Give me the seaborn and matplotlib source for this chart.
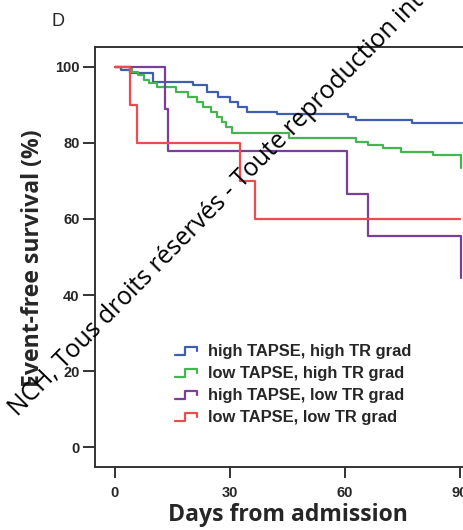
import pandas as pd
import seaborn as sns
import matplotlib.pyplot as plt
from matplotlib.lines import Line2D
from matplotlib.legend_handler import HandlerLine2D

# Kaplan-Meier style curves (days, event-free survival %)
groups = ["high TAPSE, high TR grad", "low TAPSE, high TR grad",
          "high TAPSE, low TR grad", "low TAPSE, low TR grad"]
colors = ["#3f5fae", "#45b550", "#7a3f98", "#ee4b50"]

blue_days = [0, 1.5, 4, 10, 20.3, 24, 27, 30, 32, 34.4, 42.3, 60.8, 63, 77.5, 90.5]
blue_surv = [100, 99.2, 98.4, 96, 95.3, 93.4, 92.1, 90.8, 89.5, 88.2, 87.6, 86.8, 86, 85.3, 85.3]

green_days = [0, 4.5, 6, 7.5, 9, 11, 16, 19, 21.5, 23, 25, 26.5, 28, 29, 30.5,
              45.5, 63, 66, 70, 74.5, 83, 90.3]
green_surv = [100, 98.7, 97.9, 96.6, 95.8, 94.7, 93.4, 92.1, 90.8, 89.5, 88.2, 86.8,
              85.5, 84.2, 82.6, 81.3, 80.3, 79.5, 78.7, 77.6, 76.8, 73.5]

purple_days = [0, 13, 13.8, 60.5, 66, 90.3]
purple_surv = [100, 88.9, 77.8, 66.7, 55.6, 44.4]

red_days = [0, 4, 5.7, 32.6, 36.5, 90.0]
red_surv = [100, 90, 80, 70, 60, 60]

xticks = [0, 30, 60, 90]
yticks = [0, 20, 40, 60, 80, 100]

frames = []
for g, d, s in zip(groups,
                   [blue_days, green_days, purple_days, red_days],
                   [blue_surv, green_surv, purple_surv, red_surv]):
    frames.append(pd.DataFrame({"day": d, "surv": s, "group": g}))
df = pd.concat(frames, ignore_index=True)

sns.set_style("ticks")
plt.rcParams["font.family"] = ["Liberation Sans", "DejaVu Sans"]

fig = plt.figure(figsize=(4.64, 5.30), dpi=100)
ax = fig.add_axes([95 / 464, 63 / 530, 1 - 95 / 464, 420 / 530])

sns.lineplot(data=df, x="day", y="surv", hue="group", hue_order=groups,
             palette=colors, estimator=None, sort=False, drawstyle="steps-post",
             linewidth=1.6, legend=False, ax=ax)

ax.set_xlim(-5.2, 91.05)
ax.set_ylim(-5.26, 105.26)
ax.set_xticks(xticks)
ax.set_yticks(yticks)
ax.tick_params(axis="x", length=8, width=1.3, pad=6, labelsize=10.5, color="#222222")
ax.tick_params(axis="y", length=9, width=1.3, pad=2, labelsize=10.5, color="#222222")
for lab in ax.get_xticklabels() + ax.get_yticklabels():
    lab.set_fontweight("bold")
for side in ["left", "bottom", "top"]:
    ax.spines[side].set_linewidth(1.4)
    ax.spines[side].set_color("#333333")
ax.spines["right"].set_visible(False)

ax.set_xlabel("")
ax.set_ylabel("")
fig.text(288 / 464, 1 - 515 / 530, "Days from admission", ha="center", va="center",
         fontsize=16.6, fontweight="bold", family="Open Sans")
fig.text(33 / 464, 1 - 258 / 530, "Event-free survival (%)", ha="center", va="center",
         rotation=90, fontsize=16.6, fontweight="bold", family="Open Sans")
fig.text(58 / 464, 1 - 21 / 530, "D", ha="center", va="center", fontsize=13)


class StepHandler(HandlerLine2D):
    def create_artists(self, legend, orig_handle, xdescent, ydescent, width, height,
                       fontsize, trans):
        x0, y0 = -xdescent, -ydescent
        xs = [x0, x0 + 0.43 * width, x0 + 0.43 * width, x0 + 0.93 * width, x0 + 0.93 * width]
        ys = [y0 + 0.1 * height, y0 + 0.1 * height, y0 + 0.8 * height,
              y0 + 0.8 * height, y0 + 0.45 * height]
        line = Line2D(xs, ys, color=orig_handle.get_color(), lw=1.6)
        line.set_transform(trans)
        return [line]


handles = [Line2D([], [], color=c, lw=1.6) for c in colors]
leg = ax.legend(handles, groups, loc="upper left",
                bbox_to_anchor=(175 / 464, 1 - 344 / 530), bbox_transform=fig.transFigure,
                frameon=False, borderpad=0, borderaxespad=0, handlelength=1.4,
                handletextpad=0.6, labelspacing=0.42,
                prop={"weight": "bold", "size": 11.9, "family": "Liberation Sans"},
                handler_map={Line2D: StepHandler()})

# overlaid watermark, split at "Tous" so that word sits where it does in the source
wm_anchor = (64 / 464, 1 - 370 / 530)
fig.text(*wm_anchor, "NCH, ", rotation=45.5, rotation_mode="anchor", ha="right",
         va="baseline", fontsize=17.8, family="Open Sans", color="black", zorder=10)
fig.text(*wm_anchor, "Tous droits réservés - Toute reproduction interdite",
         rotation=45.5, rotation_mode="anchor", ha="left", va="baseline",
         fontsize=17.8, family="Open Sans", color="black", zorder=10)

fig.savefig("out.png", dpi=100)
